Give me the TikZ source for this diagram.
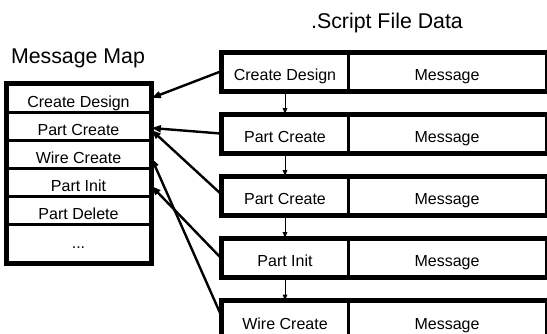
\documentclass[tikz,border=0pt]{standalone}
\usepackage{fontspec}
\setmainfont{Liberation Sans}
\usetikzlibrary{arrows.meta,calc}

\tikzset{every picture/.style={line width=0.75pt}}

\begin{document}
\begin{tikzpicture}[x=0.75pt,y=0.75pt,yscale=-1,xscale=1,
  boxtext/.style={font=\fontsize{12}{14}\selectfont, text height=13.5pt, text depth=0pt, inner sep=0pt},
  maprow/.style={boxtext, draw, line width=2.25pt, minimum width=107.25pt, minimum height=21pt},
  keybox/.style={boxtext, draw, line width=2.25pt, minimum width=94.5pt, minimum height=27.75pt},
  msgbox/.style={keybox, minimum width=148.5pt},
  title/.style={font=\fontsize{16}{19}\selectfont, inner sep=0pt},
  link/.style={line width=1.8pt, -{Triangle[length=7pt,width=5pt]}},
  nextarrow/.style={line width=0.75pt, -{Triangle[length=4pt,width=3.5pt]}}
]
%set diagram size 547 x 333
\useasboundingbox (0,0) rectangle (547,333);
\clip (0,0) rectangle (547,333);

% Text Node
\node [title] (maptitle) at (78,58) {Message Map};
% Text Node
\node [title] (scripttitle) at (387,23) {.Script File Data};

%Shape: Message Map table
\node [maprow] (m1) at (78.5,98) {Create Design};
\node [maprow] (m2) at (78.5,126) {Part Create};
\node [maprow] (m3) at (78.5,154) {Wire Create};
\node [maprow] (m4) at (78.5,182) {Part Init};
\node [maprow] (m5) at (78.5,210) {Part Delete};
\node [maprow, minimum height=28.5pt, text height=8pt] (m6) at (78.5,243) {...};
\draw [line width=3pt] (m1.north west) rectangle (m6.south east) ;

%Shape: Script file records
\node [keybox] (s1) at (285,71.5) {Create Design};
\node [msgbox] (s1m) at (447,71.5) {Message};
\node [keybox] (s2) at (285,133.5) {Part Create};
\node [msgbox] (s2m) at (447,133.5) {Message};
\node [keybox] (s3) at (285,195.5) {Part Create};
\node [msgbox] (s3m) at (447,195.5) {Message};
\node [keybox] (s4) at (285,257.5) {Part Init};
\node [msgbox] (s4m) at (447,257.5) {Message};
\node [keybox] (s5) at (285,320) {Wire Create};
\node [msgbox] (s5m) at (447,320) {Message};
\foreach \r in {s1,s2,s3,s4,s5}
  \draw [line width=3pt] (\r.north west) rectangle (\r m.south east) ;

%Straight Lines: record order
\foreach \a/\b in {s1/s2,s2/s3,s3/s4,s4/s5}
  \draw [nextarrow] (\a.south) -- (\b.north) ;

%Straight Lines: record to map entry
\draw [link] (s1.west) -- (m1.east) ;
\draw [link] (s2.west) -- ($(m2.east)+(0,2)$) ;
\draw [link] ($(s3.west)+(0,-2)$) -- ($(m2.east)+(0,4)$) ;
\draw [link] (s4.west) -- ($(m4.east)+(0,4)$) ;
\draw [link] ($(s5.west)+(0,-6)$) -- ($(m3.east)+(0,4)$) ;

\end{tikzpicture}
\end{document}
